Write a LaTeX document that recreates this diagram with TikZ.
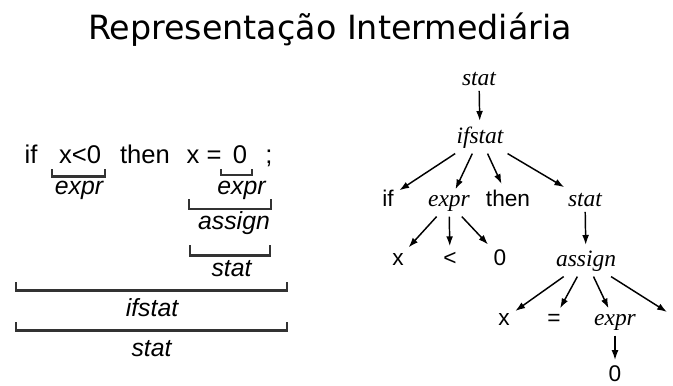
\documentclass[tikz,border=0pt]{standalone}
\usepackage{fontspec}
\setmainfont{Liberation Sans}
\newfontfamily\titlefont{DejaVu Sans}
\newfontfamily\treefont{Liberation Serif}
\usetikzlibrary{arrows.meta}

\begin{document}
\begin{tikzpicture}[
    x=0.75pt, y=-0.75pt,
    tok/.style={font=\fontsize{19.2}{22}\selectfont, anchor=base, inner sep=0pt},
    lbl/.style={font=\fontsize{18.6}{22}\selectfont\itshape, anchor=base, inner sep=0pt},
    brace/.style={line width=1.6pt, draw=black!80},
    tsans/.style={font=\fontsize{17}{20}\selectfont, anchor=base, inner sep=4pt},
    tser/.style={font=\treefont\fontsize{17.6}{20}\selectfont\itshape, anchor=base, inner sep=4pt},
    link/.style={-{Latex[length=2.6mm,width=1.8mm]}, line width=1.1pt},
  ]
  \useasboundingbox (0,0) rectangle (673,385);

  \node[font=\titlefont\fontsize{25}{30}\selectfont, anchor=base] (title) at (330,40) {Representação Intermediária};

  \node[tok] (if) at (31,163) {if};
  \node[tok] (cond) at (80,163) {x<0};
  \node[tok] (then) at (145,163) {then};
  \node[tok] (var) at (193,163) {x};
  \node[tok] (eq) at (214,163) {=};
  \node[tok] (zero) at (240,163) {0};
  \node[tok] (semi) at (269,163) {;};

  \foreach \xa/\xb/\ya/\yb in {52/105/169/176.5, 221/252/169/175, 189/271/199/209, 190/270/245/255.5, 16/287/282/290.5, 16/287/322/330.5}
    \draw[brace] (\xa,\ya) -- (\xa,\yb) -- (\xb,\yb) -- (\xb,\ya);

  \node[lbl] (cond-expr) at (79,194) {expr};
  \node[lbl] (zero-expr) at (241.5,194) {expr};
  \node[lbl] (assign) at (234,229) {assign};
  \node[lbl] (assign-stat) at (231.5,276) {stat};
  \node[lbl] (ifstat) at (152,316) {ifstat};
  \node[lbl] (stat) at (151.5,356) {stat};

  \node[tser] (t-stat) at (479,85) {stat};
  \node[tser] (t-ifstat) at (480,143) {ifstat};
  \node[tsans] (t-if) at (388,206) {if};
  \node[tser] (t-expr) at (449,206) {expr};
  \node[tsans] (t-then) at (508,206) {then};
  \node[tser] (t-stat2) at (585,206) {stat};
  \node[tsans] (t-x) at (398,265) {x};
  \node[tsans] (t-lt) at (450,265) {<};
  \node[tsans] (t-zero) at (500,265) {0};
  \node[tser] (t-assign) at (586,266) {assign};
  \node[tsans] (t-x2) at (504,325) {x};
  \node[tsans] (t-eq) at (554,325) {=};
  \node[tser] (t-expr2) at (615,325) {expr};
  \node[tsans] (t-zero2) at (615,381.5) {0};
  \coordinate (t-semi) at (667,312);

  \draw[link] (t-stat) -- (t-ifstat);
  \draw[link] (t-ifstat) -- (t-if);
  \draw[link] (t-ifstat) -- (t-expr);
  \draw[link] (t-ifstat) -- (t-then);
  \draw[link] (t-ifstat) -- (t-stat2);
  \draw[link] (t-expr) -- (t-x);
  \draw[link] (t-expr) -- (t-lt);
  \draw[link] (t-expr) -- (t-zero);
  \draw[link] (t-stat2) -- (t-assign);
  \draw[link] (t-assign) -- (t-x2);
  \draw[link] (t-assign) -- (t-eq);
  \draw[link] (t-assign) -- (t-expr2);
  \draw[link] (t-assign) -- (t-semi);
  \draw[link] (t-expr2) -- (t-zero2);
\end{tikzpicture}
\end{document}
